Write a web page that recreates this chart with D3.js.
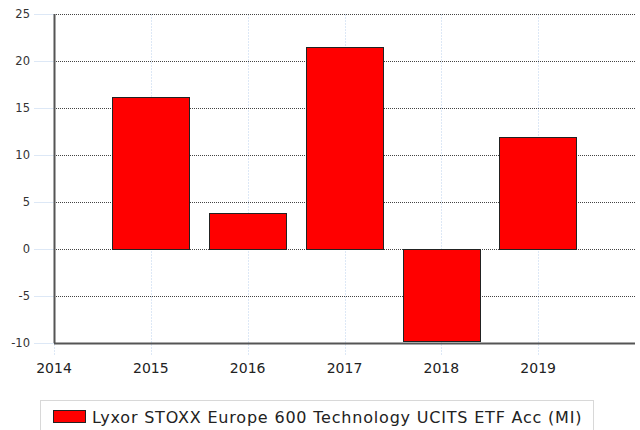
<!DOCTYPE html>
<html>
<head>
<meta charset="utf-8">
<script src="https://cdn.jsdelivr.net/npm/d3@7"></script>
<style>
  body { margin: 0; background: #fff; }
  text { font-family: "DejaVu Sans", Verdana, sans-serif; }
</style>
</head>
<body>
<div id="chart"></div>
<script>
const years = [2015, 2016, 2017, 2018, 2019];
const returns = [16.2, 3.8, 21.5, -9.8, 11.9];
const yTicks = [-10, -5, 0, 5, 10, 15, 20, 25];
const xTicks = [2014, 2015, 2016, 2017, 2018, 2019];
const seriesName = "Lyxor STOXX Europe 600 Technology UCITS ETF Acc (MI)";

const width = 640;
const height = 430;
const plotLeft = 54, plotRight = 635, plotTop = 14, plotBottom = 343;

const svg = d3
  .select("#chart")
  .append("svg")
  .attr("width", width)
  .attr("height", height);

const x = d3.scaleLinear().domain([2014, 2020]).range([plotLeft, plotRight]);
const y = d3.scaleLinear().domain([-10, 25]).range([plotBottom, plotTop]);
const barWidth = (x(1) - x(0)) * 0.8;

// vertical light gridlines at years
svg
  .append("g")
  .selectAll("line")
  .data(xTicks)
  .enter()
  .append("line")
  .attr("x1", (d) => Math.round(x(d)) + 0.5)
  .attr("x2", (d) => Math.round(x(d)) + 0.5)
  .attr("y1", plotTop)
  .attr("y2", plotBottom + 12)
  .attr("stroke", "#dde8f6")
  .attr("stroke-dasharray", "2,1");

// horizontal dotted gridlines
svg
  .append("g")
  .selectAll("line")
  .data(yTicks.filter((d) => d !== -10))
  .enter()
  .append("line")
  .attr("x1", plotLeft)
  .attr("x2", plotRight)
  .attr("y1", (d) => Math.round(y(d)) + 0.5)
  .attr("y2", (d) => Math.round(y(d)) + 0.5)
  .attr("stroke", "#444")
  .attr("stroke-dasharray", "1,1");

// y tick marks (light blue, left of the axis)
svg
  .append("g")
  .selectAll("line")
  .data(yTicks)
  .enter()
  .append("line")
  .attr("x1", plotLeft - 20)
  .attr("x2", plotLeft)
  .attr("y1", (d) => Math.round(y(d)) + 0.5)
  .attr("y2", (d) => Math.round(y(d)) + 0.5)
  .attr("stroke", "#dde8f6");

// bars
svg
  .append("g")
  .selectAll("rect")
  .data(years)
  .enter()
  .append("rect")
  .attr("x", (d) => Math.round(x(d) - barWidth / 2) + 0.5)
  .attr("y", (d, i) => Math.round(y(Math.max(0, returns[i]))) + 0.5)
  .attr("width", Math.round(barWidth))
  .attr("height", (d, i) => Math.round(Math.abs(y(returns[i]) - y(0))))
  .attr("fill", "#ff0000")
  .attr("stroke", "#222")
  .attr("stroke-width", 1);

// axes lines
svg
  .append("line")
  .attr("x1", plotLeft + 0.5)
  .attr("x2", plotLeft + 0.5)
  .attr("y1", plotTop)
  .attr("y2", plotBottom)
  .attr("stroke", "#555")
  .attr("stroke-width", 2);

svg
  .append("line")
  .attr("x1", plotLeft)
  .attr("x2", plotRight)
  .attr("y1", plotBottom + 0.5)
  .attr("y2", plotBottom + 0.5)
  .attr("stroke", "#555")
  .attr("stroke-width", 2);

// y labels
svg
  .append("g")
  .selectAll("text")
  .data(yTicks)
  .enter()
  .append("text")
  .text((d) => d)
  .attr("x", 30)
  .attr("y", (d) => y(d) + 4)
  .attr("text-anchor", "end")
  .attr("font-size", 11.5)
  .attr("fill", "#333");

// x labels
svg
  .append("g")
  .selectAll("text")
  .data(xTicks)
  .enter()
  .append("text")
  .text((d) => d)
  .attr("x", (d) => x(d))
  .attr("y", plotBottom + 30)
  .attr("text-anchor", "middle")
  .attr("font-size", 14)
  .attr("fill", "#222");

// legend
const legend = svg.append("g");
legend
  .append("rect")
  .attr("x", 40.5)
  .attr("y", 400.5)
  .attr("width", 553)
  .attr("height", 40)
  .attr("fill", "#fff")
  .attr("stroke", "#d8d8d8");
legend
  .append("rect")
  .attr("x", 53.5)
  .attr("y", 410.5)
  .attr("width", 32)
  .attr("height", 12)
  .attr("fill", "#ff0000")
  .attr("stroke", "#222");
legend
  .append("text")
  .text(seriesName)
  .attr("x", 92)
  .attr("y", 423)
  .attr("font-size", 16)
  .attr("letter-spacing", 0.8)
  .attr("fill", "#222");
</script>
</body>
</html>
